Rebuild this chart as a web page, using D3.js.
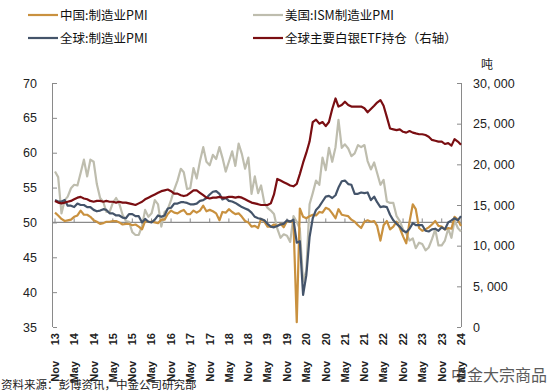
<!DOCTYPE html>
<html><head><meta charset="utf-8">
<script src="https://cdn.jsdelivr.net/npm/d3@7"></script>
<style>
html,body{margin:0;padding:0;background:#fff;overflow:hidden;}
svg{display:block;}
</style></head>
<body>
<svg id="chart" width="550" height="392"></svg>
<script>
// ---- DATA (monthly, Nov 2013 .. May 2024) ----
const startMonth = "2013-11";
const chinaPMI = [
 51.4,51.0,
 50.5,50.2,50.3,50.4,50.8,51.0,51.7,51.1,51.1,50.8,50.3,50.1,
 49.8,49.9,50.1,50.1,50.2,50.2,50.0,49.7,49.8,49.8,49.6,49.7,
 49.4,49.0,50.2,50.1,50.1,50.0,49.9,50.4,50.4,51.2,51.7,51.4,
 51.3,51.6,51.8,51.2,51.2,51.7,51.4,51.7,52.4,51.6,51.8,51.6,
 51.3,50.3,51.5,51.4,51.9,51.5,51.2,51.3,50.8,50.2,50.0,49.4,
 49.5,49.2,50.5,50.1,49.4,49.4,49.7,49.5,49.8,49.3,50.2,50.2,
 50.0,35.7,52.0,50.8,50.6,50.9,51.1,51.0,51.5,51.4,52.1,51.9,
 51.3,50.6,51.9,51.1,51.0,50.9,50.4,50.1,49.6,49.2,50.1,50.3,
 50.1,50.2,49.5,47.4,49.6,50.2,49.0,49.4,50.1,49.2,48.0,47.0,
 50.1,52.6,51.9,49.2,48.8,49.0,49.3,49.7,50.2,49.5,49.4,49.0,
 49.2,49.1,50.8,50.4,49.5
];
const usISM = [
 57.3,56.5,
 51.3,53.2,53.7,54.9,55.4,55.3,57.1,59.0,56.6,59.0,58.7,55.5,
 53.5,52.9,51.5,51.5,52.8,53.5,52.7,51.1,50.2,50.1,48.6,48.2,
 48.2,49.5,51.8,50.8,51.3,53.2,52.6,49.4,51.5,51.9,53.2,54.7,
 56.0,57.7,57.2,54.8,54.9,57.8,56.3,58.8,60.8,58.7,58.2,59.7,
 59.1,60.8,59.3,57.3,58.7,60.2,58.1,61.3,59.8,57.7,59.3,54.1,
 56.6,54.2,55.3,52.8,52.1,51.7,51.2,49.1,47.8,48.3,48.1,47.2,
 50.9,50.1,49.1,41.5,43.1,52.6,54.2,56.0,55.4,59.3,57.5,60.7,
 58.7,60.8,64.7,60.7,61.2,60.6,59.5,59.9,61.1,60.8,61.1,58.8,
 57.6,58.6,57.1,55.4,56.1,53.0,52.8,52.8,50.9,50.2,49.0,48.4,
 47.4,47.7,46.3,47.1,46.9,46.0,46.4,47.6,49.0,46.7,46.7,47.4,
 49.1,47.8,50.3,49.2,48.7
];
const globalPMI = [
 53.2,53.0,
 53.0,53.2,52.4,52.4,52.2,52.7,52.5,52.5,52.2,52.2,51.8,51.6,
 51.7,51.9,51.8,51.3,51.3,51.0,51.0,50.7,50.6,51.2,51.2,50.9,
 50.9,50.0,50.5,50.1,50.0,50.4,51.0,50.8,51.0,52.0,52.1,52.7,
 52.7,52.9,52.9,52.8,52.6,52.6,52.7,53.1,53.2,53.5,54.0,54.4,
 54.5,54.1,53.3,53.5,53.1,53.0,52.8,52.5,52.2,52.0,51.8,51.4,
 50.8,50.6,50.5,50.3,49.8,49.4,49.3,49.5,49.7,49.8,50.3,50.1,
 50.4,47.1,47.3,39.6,42.4,47.9,50.6,51.8,52.3,53.0,53.7,53.8,
 53.5,53.9,55.0,55.9,56.0,55.5,55.4,54.1,54.1,54.3,54.2,54.3,
 53.2,53.7,52.9,52.2,52.3,52.2,51.1,50.3,49.8,49.4,48.8,48.6,
 49.1,49.9,49.6,49.6,49.6,48.8,48.7,49.0,49.1,48.8,49.3,49.0,
 50.0,50.3,50.6,50.3,50.9
];
const silverETF = [
 15500,15300,
 15200,15300,15400,15500,15700,15900,16000,15800,15700,15500,15400,15500,
 15500,15400,15500,15400,15400,15300,15400,15300,15300,15200,15100,15000,
 15200,15400,15700,15900,16100,16300,16500,16700,16800,16900,16700,16400,
 16400,16200,16100,16200,16500,16800,16800,16500,16200,15900,15800,15900,
 15900,16000,15900,15900,16000,16000,15900,16000,15900,15700,15500,15300,
 15200,15100,15000,15000,15000,15200,16300,18200,18000,17800,17600,17400,
 17300,17600,18800,20200,21400,22800,25200,25500,25000,25200,24700,25200,
 26800,28100,27100,27300,27700,27300,27100,27100,27100,27100,26900,26400,
 26800,27200,27600,27900,27200,25800,24400,24300,24200,24300,24000,23900,
 24100,23900,23800,23700,23700,23600,23400,23000,22900,22800,22800,22500,
 22600,22300,23100,22800,22400
];
const xTickLabels = [
 ["Nov","13"],["May","14"],["Nov","14"],["May","15"],["Nov","15"],["May","16"],
 ["Nov","16"],["May","17"],["Nov","17"],["May","18"],["Nov","18"],["May","19"],
 ["Nov","19"],["May","20"],["Nov","20"],["May","21"],["Nov","21"],["May","22"],
 ["Nov","22"],["May","23"],["Nov","23"],["May","24"]
];
const leftTicks = [35,40,45,50,55,60,65,70];
const rightTicks = [0,5000,10000,15000,20000,25000,30000];
const seriesNames = ["中国:制造业PMI","美国:ISM制造业PMI","全球:制造业PMI","全球主要白银ETF持仓（右轴）"];
const seriesColors = ["#C9913F","#BEBDAE","#44546A","#7A0E12"];

// ---- CHART ----
const svg = d3.select("#chart");
const parse = d3.timeParse("%Y-%m");
const t0 = parse(startMonth);
const months = chinaPMI.map((d,i)=>d3.timeMonth.offset(t0,i));
const monthNames = {Nov:10, May:4};
const tickDates = xTickLabels.map(([m,y])=>new Date(2000+ +y, monthNames[m], 1));

const x = d3.scaleTime().domain([t0, tickDates[tickDates.length-1]]).range([55, 461]);
const yL = d3.scaleLinear().domain([35,70]).range([327,83]);
const yR = d3.scaleLinear().domain([0,30000]).range([327,83]);

const axisColor = "#8a8a8a";
const font = "'Liberation Sans', Arial, sans-serif";

// left axis
const gL = svg.append("g").attr("transform","translate(53,0)")
  .call(d3.axisLeft(yL).tickValues(leftTicks).tickSize(-4).tickPadding(16).tickFormat(d3.format("d")));
gL.select(".domain").attr("stroke",axisColor).attr("d","M-0.5,"+yL(35)+"V"+yL(70));
gL.selectAll(".tick line").attr("stroke",axisColor);
gL.selectAll("text").attr("font-family",font).attr("font-size","12.5px").attr("fill","#222");

// right axis
const gR = svg.append("g").attr("transform","translate(461,0)")
  .call(d3.axisRight(yR).tickValues(rightTicks).tickSize(-4).tickPadding(12)
    .tickFormat(v=>d3.format(",")(v).replace(",", ", ")));
gR.select(".domain").attr("stroke",axisColor).attr("d","M0.5,"+yR(0)+"V"+yR(30000));
gR.selectAll(".tick line").attr("stroke",axisColor);
gR.selectAll("text").attr("font-family",font).attr("font-size","12.5px").attr("fill","#222");

svg.append("text").attr("x",487).attr("y",69).attr("text-anchor","middle")
  .attr("font-family","'Noto Sans CJK SC',sans-serif").attr("font-size","12px").attr("fill","#222").text("吨");

// x axis at 50
const y50 = yL(50);
svg.append("line").attr("x1",53).attr("x2",461).attr("y1",y50).attr("y2",y50)
  .attr("stroke",axisColor).attr("stroke-width",1.2);
svg.append("g").selectAll("line").data(tickDates).join("line")
  .attr("x1",d=>x(d)).attr("x2",d=>x(d)).attr("y1",y50).attr("y2",y50-4)
  .attr("stroke",axisColor);

// x labels
const xl = svg.append("g").selectAll("g").data(xTickLabels).join("g")
  .attr("transform",(d,i)=>`translate(${x(tickDates[i])},0)`);
xl.append("text").attr("transform","translate(0,333) rotate(-90)")
  .attr("text-anchor","end").attr("dy","0.35em").attr("font-weight","bold")
  .attr("font-family",font).attr("font-size","11px").attr("fill","#222").text(d=>d[1]);
xl.append("text").attr("transform","translate(0,361) rotate(-90)")
  .attr("text-anchor","end").attr("dy","0.35em").attr("font-weight","bold")
  .attr("font-family",font).attr("font-size","11px").attr("fill","#222").text(d=>d[0]);

// lines
const lineL = d3.line().x((d,i)=>x(months[i])).y(d=>yL(d));
const lineR = d3.line().x((d,i)=>x(months[i])).y(d=>yR(d));
const drawOrder = [[usISM,1,lineL],[chinaPMI,0,lineL],[globalPMI,2,lineL],[silverETF,3,lineR]];
drawOrder.forEach(([data,ci,gen])=>{
  svg.append("path").datum(data).attr("d",gen).attr("fill","none")
    .attr("stroke",seriesColors[ci]).attr("stroke-width",2.2).attr("stroke-linejoin","round");
});

// legend
const legendPos = [[28,15],[253,15],[28,38],[253,38]];
const leg = svg.append("g").selectAll("g").data(seriesNames).join("g")
  .attr("transform",(d,i)=>`translate(${legendPos[i][0]},${legendPos[i][1]})`);
leg.append("line").attr("x1",0).attr("x2",30).attr("stroke",(d,i)=>seriesColors[i]).attr("stroke-width",2.2);
leg.append("text").attr("x",32).attr("dy","0.36em")
  .attr("font-family","'Noto Sans CJK SC',sans-serif").attr("font-size","12.5px").attr("fill","#111").text(d=>d);

// source & watermark
svg.append("text").attr("x",1).attr("y",389)
  .attr("font-family","'Noto Sans CJK SC',sans-serif").attr("font-size","11.5px").attr("fill","#222")
  .text("资料来源：彭博资讯，中金公司研究部");
svg.append("text").attr("x",451).attr("y",381)
  .attr("font-family","'Noto Sans CJK SC',sans-serif").attr("font-size","16px").attr("fill","#333")
  .attr("opacity",0.8).text("中金大宗商品");
</script>
</body></html>
